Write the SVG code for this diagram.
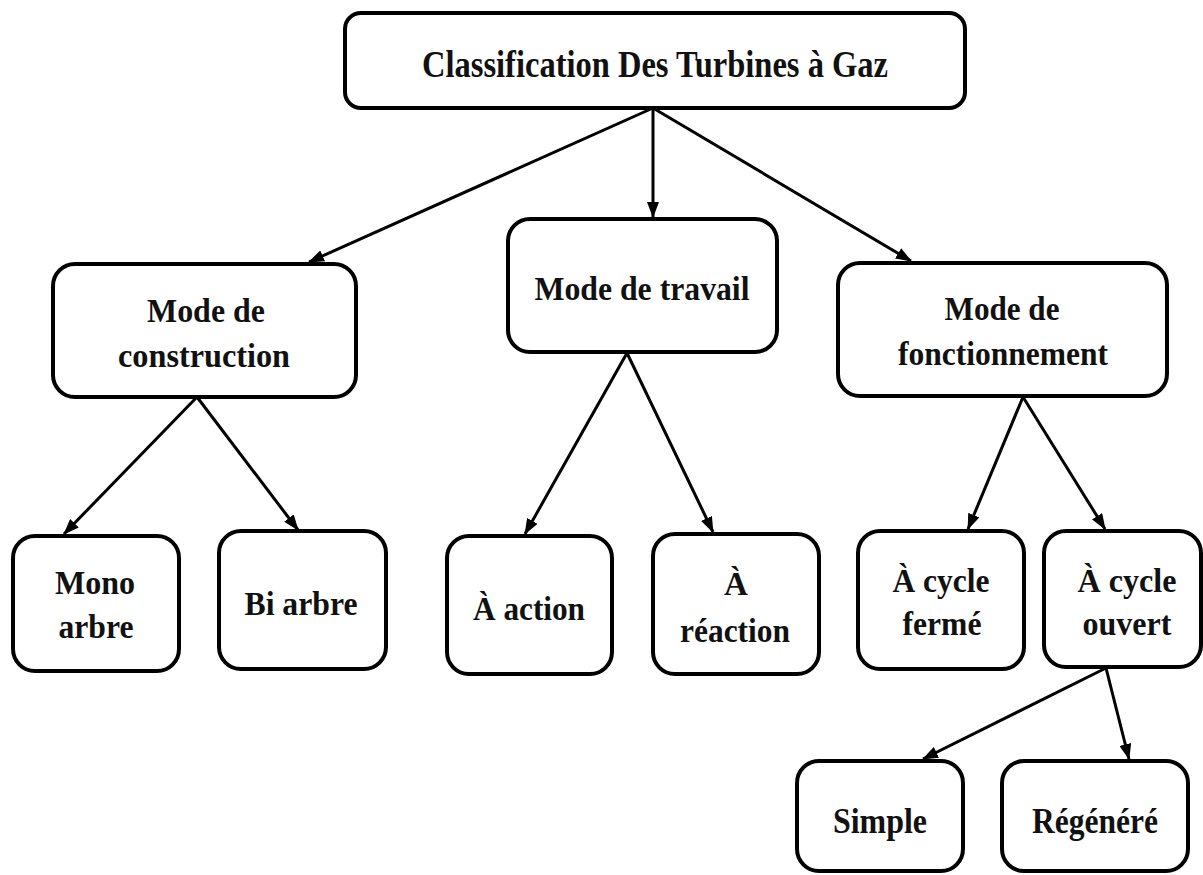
<svg xmlns="http://www.w3.org/2000/svg" width="1203" height="875" viewBox="0 0 1203 875">
<style>
.box{fill:#fff;stroke:#000;stroke-width:4}
.t{font-family:"Liberation Serif","Times New Roman",serif;font-weight:bold;font-size:33px;fill:#111;text-anchor:middle}
.c{stroke:#000;stroke-width:3;fill:none;marker-end:url(#ah)}
</style>
<defs>
<marker id="ah" markerUnits="userSpaceOnUse" markerWidth="16" markerHeight="12" refX="15" refY="6" orient="auto">
<path d="M0,0 L16,6 L0,12 Z" fill="#000"/>
</marker>
</defs>
<rect width="1203" height="875" fill="#fff"/>
<g id="connectors">
<line class="c" x1="653" y1="108" x2="309" y2="262"/>
<line class="c" x1="653" y1="108" x2="653" y2="217"/>
<line class="c" x1="653" y1="108" x2="911" y2="261"/>
<line class="c" x1="197" y1="397" x2="64" y2="534"/>
<line class="c" x1="197" y1="397" x2="298" y2="530"/>
<line class="c" x1="627" y1="353" x2="525" y2="534"/>
<line class="c" x1="627" y1="353" x2="713" y2="532"/>
<line class="c" x1="1023" y1="397" x2="968" y2="529"/>
<line class="c" x1="1023" y1="397" x2="1105" y2="529"/>
<line class="c" x1="1106" y1="668" x2="923" y2="759"/>
<line class="c" x1="1106" y1="668" x2="1129" y2="759"/>
</g>
<g id="n-root"><rect class="box" x="345" y="13" width="620" height="95" rx="16"/><text class="t" x="655" y="77" style="font-size:38px" textLength="466" lengthAdjust="spacingAndGlyphs">Classification Des Turbines à Gaz</text></g>
<g id="n-construction"><rect class="box" x="53" y="264" width="303" height="133" rx="22"/><text class="t" x="206" y="322" textLength="118" lengthAdjust="spacingAndGlyphs">Mode de</text><text class="t" x="204" y="367" textLength="172" lengthAdjust="spacingAndGlyphs">construction</text></g>
<g id="n-travail"><rect class="box" x="508" y="219" width="269" height="133" rx="22"/><text class="t" x="642" y="300" textLength="215" lengthAdjust="spacingAndGlyphs">Mode de travail</text></g>
<g id="n-fonctionnement"><rect class="box" x="838" y="263" width="329" height="133" rx="22"/><text class="t" x="1002" y="320" textLength="115" lengthAdjust="spacingAndGlyphs">Mode de</text><text class="t" x="1003" y="365" textLength="210" lengthAdjust="spacingAndGlyphs">fonctionnement</text></g>
<g id="n-mono"><rect class="box" x="13" y="536" width="166" height="135" rx="22"/><text class="t" x="95" y="594" textLength="80" lengthAdjust="spacingAndGlyphs">Mono</text><text class="t" x="96" y="638" textLength="75" lengthAdjust="spacingAndGlyphs">arbre</text></g>
<g id="n-bi"><rect class="box" x="219" y="531" width="167" height="138" rx="22"/><text class="t" x="301" y="615" textLength="113" lengthAdjust="spacingAndGlyphs">Bi arbre</text></g>
<g id="n-action"><rect class="box" x="447" y="536" width="165" height="138" rx="22"/><text class="t" x="529" y="620" textLength="112" lengthAdjust="spacingAndGlyphs">À action</text></g>
<g id="n-reaction"><rect class="box" x="653" y="534" width="166" height="140" rx="22"/><text class="t" x="736" y="595">À</text><text class="t" x="735" y="642" textLength="110" lengthAdjust="spacingAndGlyphs">réaction</text></g>
<g id="n-ferme"><rect class="box" x="858" y="531" width="166" height="138" rx="22"/><text class="t" x="941" y="592" textLength="97" lengthAdjust="spacingAndGlyphs">À cycle</text><text class="t" x="942" y="635" textLength="79" lengthAdjust="spacingAndGlyphs">fermé</text></g>
<g id="n-ouvert"><rect class="box" x="1044" y="531" width="157" height="136" rx="22"/><text class="t" x="1127" y="592" textLength="99" lengthAdjust="spacingAndGlyphs">À cycle</text><text class="t" x="1127" y="635" textLength="89" lengthAdjust="spacingAndGlyphs">ouvert</text></g>
<g id="n-simple"><rect class="box" x="797" y="761" width="166" height="110" rx="22"/><text class="t" x="880" y="833" style="font-size:35px" textLength="94" lengthAdjust="spacingAndGlyphs">Simple</text></g>
<g id="n-regenere"><rect class="box" x="1002" y="761" width="186" height="110" rx="22"/><text class="t" x="1095" y="833" style="font-size:35px" textLength="126" lengthAdjust="spacingAndGlyphs">Régénéré</text></g>
</svg>
